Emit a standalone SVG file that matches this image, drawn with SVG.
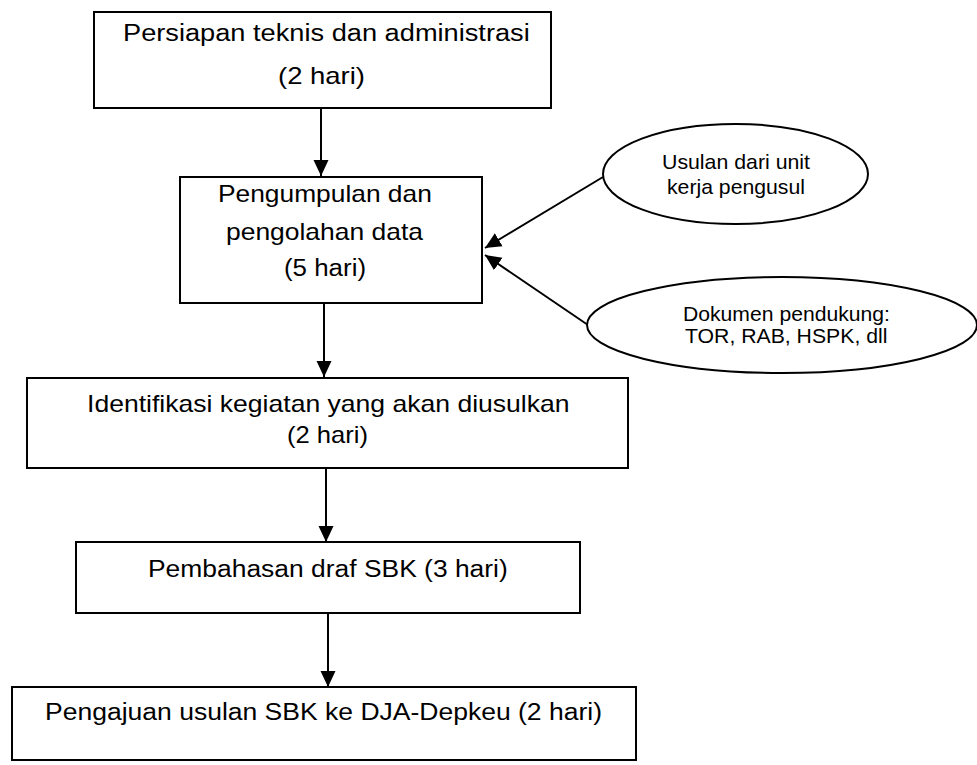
<svg xmlns="http://www.w3.org/2000/svg" width="977" height="765" viewBox="0 0 977 765">
<style>
.box{fill:#fff;stroke:#000;stroke-width:2}
.ell{fill:#fff;stroke:#000;stroke-width:2}
.t{font-family:"Liberation Sans",Arial,sans-serif;font-size:23px;fill:#000}
.s{font-family:"Liberation Sans",Arial,sans-serif;font-size:20px;fill:#000}
.c{stroke:#000;stroke-width:2;fill:none;marker-end:url(#ah)}
</style>
<defs>
<marker id="ah" markerWidth="16" markerHeight="16" viewBox="0 0 16 16" refX="16" refY="8" orient="auto" markerUnits="userSpaceOnUse">
<path d="M0,0.5 L16,8 L0,15.5 z" fill="#000"/>
</marker>
</defs>
<g id="connectors">
<line class="c" x1="321" y1="108" x2="321" y2="176"/>
<line class="c" x1="324" y1="303" x2="324" y2="377"/>
<line class="c" x1="326" y1="468" x2="326" y2="542"/>
<line class="c" x1="328" y1="613" x2="328" y2="687"/>
<line class="c" x1="603" y1="177" x2="485" y2="248"/>
<line class="c" x1="588" y1="325" x2="485" y2="255"/>
</g>
<g id="n1">
<rect class="box" x="94" y="12" width="457" height="96"/>
<text class="t" transform="translate(123,41) scale(1.183,1)">Persiapan teknis dan administrasi</text>
<text class="t" transform="translate(278,84) scale(1.195,1)">(2 hari)</text>
</g>
<g id="n2">
<rect class="box" x="180" y="177" width="302" height="126"/>
<text class="t" transform="translate(218,202) scale(1.146,1)">Pengumpulan dan</text>
<text class="t" transform="translate(226,240) scale(1.15,1)">pengolahan data</text>
<text class="t" transform="translate(284,276) scale(1.126,1)">(5 hari)</text>
</g>
<g id="e1">
<ellipse class="ell" cx="735.5" cy="174" rx="132.5" ry="50"/>
<text class="s" transform="translate(662,169) scale(1.065,1)">Usulan dari unit</text>
<text class="s" transform="translate(667,194) scale(1.061,1)">kerja pengusul</text>
</g>
<g id="e2">
<ellipse class="ell" cx="782" cy="325" rx="195" ry="48"/>
<text class="s" transform="translate(683,321) scale(1.058,1)">Dokumen pendukung:</text>
<text class="s" transform="translate(685,343) scale(1.062,1)">TOR, RAB, HSPK, dll</text>
</g>
<g id="n3">
<rect class="box" x="27" y="378" width="601" height="90"/>
<text class="t" transform="translate(87,412) scale(1.155,1)">Identifikasi kegiatan yang akan diusulkan</text>
<text class="t" transform="translate(287,443) scale(1.112,1)">(2 hari)</text>
</g>
<g id="n4">
<rect class="box" x="76" y="542" width="504" height="71"/>
<text class="t" transform="translate(148,577) scale(1.149,1)">Pembahasan draf SBK (3 hari)</text>
</g>
<g id="n5">
<rect class="box" x="12" y="687" width="624" height="73"/>
<text class="t" transform="translate(45,720) scale(1.153,1)">Pengajuan usulan SBK ke DJA-Depkeu (2 hari)</text>
</g>
</svg>
